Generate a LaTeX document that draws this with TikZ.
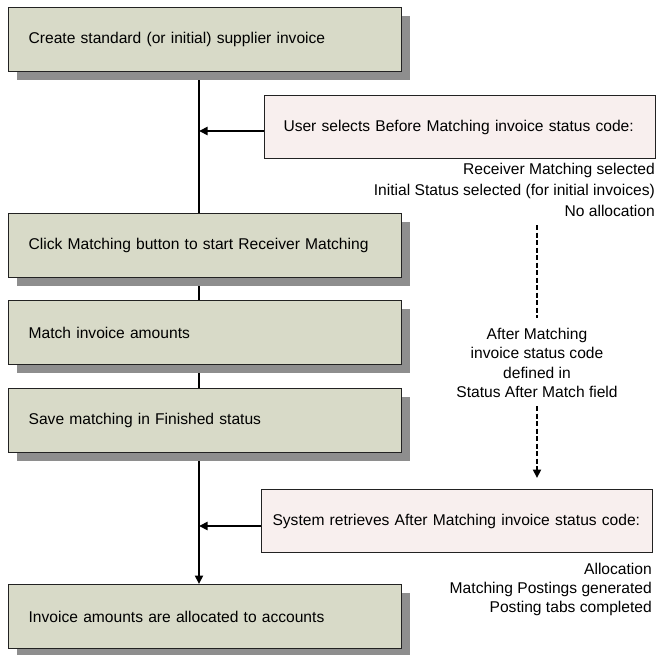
\documentclass[tikz,border=0pt]{standalone}
\usepackage{fontspec}
\setmainfont{Liberation Sans}
\usetikzlibrary{arrows.meta,shadows,backgrounds}

\definecolor{stepfill}{HTML}{D8DAC8}
\definecolor{notefill}{HTML}{F8EFEE}
\definecolor{shadowgray}{HTML}{8E8E8E}
\definecolor{edgegray}{HTML}{222222}

\tikzset{
  stepbox/.style={draw=edgegray, line width=1.3bp, fill=stepfill,
    anchor=north west, minimum width=393bp, minimum height=64bp,
    text width=353bp, inner xsep=20bp, inner ysep=0pt, align=left,
    drop shadow={shadow xshift=8bp, shadow yshift=-8bp, fill=shadowgray, opacity=1}},
  notebox/.style={draw=edgegray, line width=1bp, fill=notefill,
    anchor=north west, minimum width=391bp, minimum height=63bp,
    text width=353bp, inner xsep=19bp, inner ysep=0pt, align=left},
  textblock/.style={inner sep=0pt},
  tip/.style={-{Triangle[length=8.5bp,width=8bp]}},
  flow/.style={line width=2bp, black},
  flowarrow/.style={flow, tip},
  hint/.style={line width=2.2bp, black, dash pattern=on 5bp off 2.5bp},
}

\begin{document}
\begin{tikzpicture}[x=1bp, y=-1bp, font=\fontsize{15.6bp}{20.7bp}\selectfont]
  \useasboundingbox (0,0) rectangle (657,655);

  % process steps
  \node[stepbox] (b1) at (8,7)   {Create standard (or initial) supplier invoice};
  \node[stepbox] (b2) at (8,213) {Click Matching button to start Receiver Matching};
  \node[stepbox] (b3) at (8,300) {Match invoice amounts};
  \node[stepbox] (b4) at (8,388) {Save matching in Finished status};
  \node[stepbox] (b5) at (8,584) {Invoice amounts are allocated to accounts};

  % status code notes
  \node[notebox] (p1) at (264,95)  {\mbox{User selects Before Matching invoice status code:}};
  \node[notebox, inner xsep=11bp, text width=369bp] (p2) at (261,489)
    {\mbox{System retrieves After Matching invoice status code:}};

  % explanatory texts (base anchor sits on the last line)
  \node[textblock, anchor=base east, align=right] (t1) at (655,216)
    {Receiver Matching selected\\Initial Status selected (for initial invoices)\\No allocation};
  \node[textblock, anchor=base, align=center,
        font=\fontsize{15.6bp}{19.5bp}\selectfont] (t2) at (537,397.5)
    {After Matching\\invoice status code\\defined in\\Status After Match field};
  \node[textblock, anchor=base east, align=right,
        font=\fontsize{15.6bp}{19bp}\selectfont] (t3) at (652,612)
    {Allocation\\Matching Postings generated\\Posting tabs completed};

  % junction points on the main flow line and the dashed hint line
  \coordinate (spine) at (199,0);
  \coordinate (j1) at (199,131);
  \coordinate (j2) at (199,526);
  \coordinate (d1) at (537,225);
  \coordinate (d2) at (537,318);
  \coordinate (d3) at (537,406);
  \coordinate (d4) at (537,478);

  \begin{scope}[on background layer]
    \draw[flow] (b1.south -| spine) -- (b2.north -| spine);
    \draw[flow] (b2.south -| spine) -- (b3.north -| spine);
    \draw[flow] (b3.south -| spine) -- (b4.north -| spine);
    \draw[flowarrow] (b4.south -| spine) -- (b5.north -| spine);
  \end{scope}

  \draw[flowarrow] (p1.west |- j1) -- (j1);
  \draw[flowarrow] (p2.west |- j2) -- (j2);

  \draw[hint] (d1) -- (d2);
  \draw[hint, tip] (d3) -- (d4);
\end{tikzpicture}
\end{document}
